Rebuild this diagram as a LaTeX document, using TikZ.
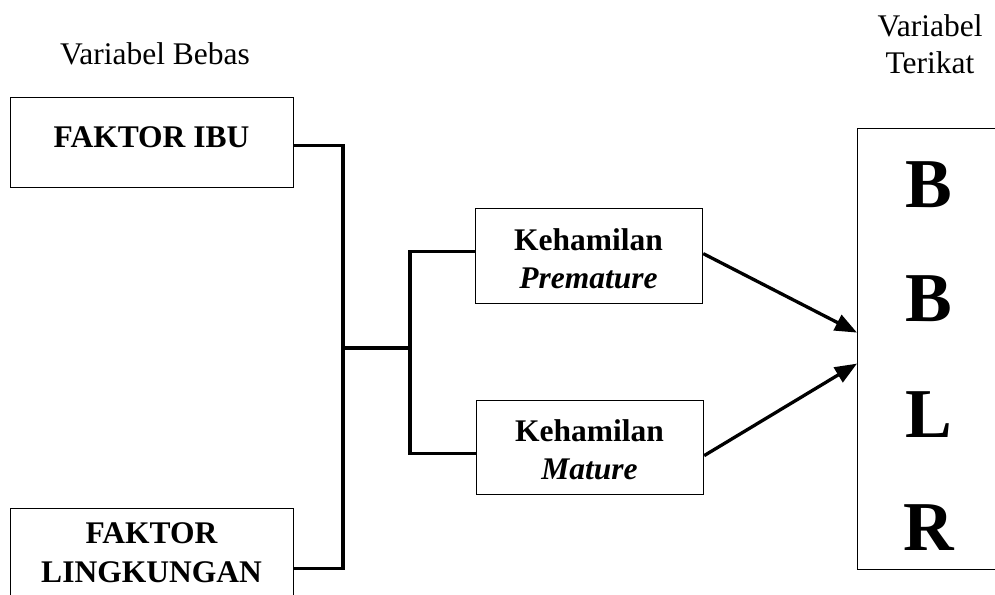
\documentclass[tikz,border=0pt]{standalone}
\usepackage{fontspec}
\setmainfont{Liberation Serif}
\usetikzlibrary{arrows.meta}
\begin{document}
\begin{tikzpicture}[x=1pt,y=-1pt,
  box/.style={draw, line width=1.2pt, inner sep=0pt, anchor=north west},
  lbl/.style={font=\fontsize{31.5}{37}\selectfont, anchor=base, inner sep=0pt},
  blbl/.style={font=\fontsize{31.5}{37}\selectfont\bfseries, anchor=base, inner sep=0pt},
  big/.style={font=\fontsize{70}{80}\selectfont\bfseries, anchor=base, inner sep=0pt},
  conn/.style={line width=3.3pt},
  arr/.style={line width=3.3pt, -{Triangle[length=22pt,width=17pt]}}]
\useasboundingbox (0,0) rectangle (995,594);
\clip (0,0) rectangle (995,594);

% headings
\node[lbl] (hbebas) at (155,64) {Variabel Bebas};
\node[lbl] (hter1) at (930,37) {Variabel};
\node[lbl] (hter2) at (930,74) {Terikat};

% boxes
\node[box, minimum width=283pt, minimum height=90pt] (ibu) at (10,97) {};
\node[blbl] (ibut) at (151.5,147) {FAKTOR IBU};

\node[box, minimum width=283pt, minimum height=120pt] (ling) at (10,508) {};
\node[blbl] (lingt1) at (151.5,543) {FAKTOR};
\node[blbl] (lingt2) at (151.5,582) {LINGKUNGAN};

\node[box, minimum width=227pt, minimum height=95pt] (prem) at (475,208) {};
\node[blbl] (premt1) at (588.5,250) {Kehamilan};
\node[blbl] (premt2) at (588.5,288) {\itshape Premature};

\node[box, minimum width=227pt, minimum height=94pt] (mat) at (476,400) {};
\node[blbl] (matt1) at (589.5,441) {Kehamilan};
\node[blbl] (matt2) at (589.5,479) {\itshape Mature};

\node[box, minimum width=143pt, minimum height=441pt] (bblr) at (857,128) {};
\node[big] (b1) at (928.5,207) {B};
\node[big] (b2) at (928.5,321) {B};
\node[big] (l1) at (928.5,437) {L};
\node[big] (r1) at (928.5,550) {R};

% connectors
\coordinate (trunk) at (343,348);
\coordinate (fork) at (410,348);
\draw[conn] ([yshift=-3pt]ibu.east) -| (trunk) |- (ling.east);
\draw[conn] (trunk) -- (fork);
\draw[conn] ([yshift=4.5pt]prem.west) -| (fork) |- ([yshift=-6pt]mat.west);

\draw[arr] ([yshift=2.5pt]prem.east) -- ([yshift=16.5pt]bblr.west);
\draw[arr] ([yshift=-8pt]mat.east) -- ([yshift=-14.5pt]bblr.west);
\end{tikzpicture}
\end{document}
